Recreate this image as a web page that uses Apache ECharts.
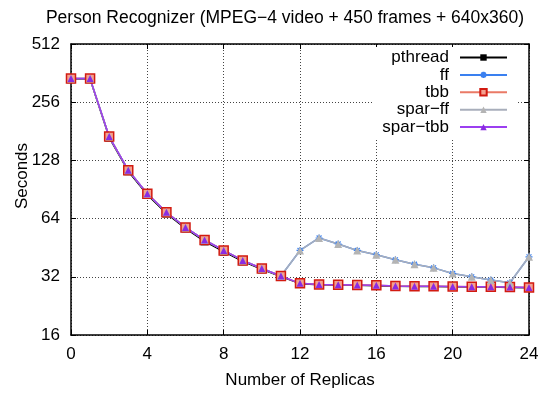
<!DOCTYPE html>
<html>
<head>
<meta charset="utf-8">
<script src="https://cdn.jsdelivr.net/npm/echarts@6/dist/echarts.min.js"></script>
<style>
    html, body { margin: 0; padding: 0; background: #fff; }
    #chart_main { width: 546px; height: 394px; }
</style>
</head>
<body>
<div id="chart_main"></div>
<script>
// 数据
let replicas = [0, 1, 2, 3, 4, 5, 6, 7, 8, 9, 10, 11, 12, 13, 14, 15, 16, 17, 18, 19, 20, 21, 22, 23, 24];
let pthread = [337, 337, 168, 112.5, 85, 68, 57, 48.8, 43.2, 38.5, 35.0, 32.1, 29.5, 29.1, 29.0, 28.9, 28.8, 28.6, 28.5, 28.5, 28.4, 28.3, 28.3, 28.2, 28.1];
let ff = [339, 339, 170, 114, 86, 69, 57.6, 49.6, 43.8, 38.9, 35.3, 32.3, 43.8, 50.8, 47.3, 43.8, 41.6, 39.2, 37.2, 35.6, 33.3, 32.0, 30.8, 29.8, 40.6];
let tbb = [339, 339, 170, 114, 86, 69, 57.6, 49.6, 43.8, 38.9, 35.3, 32.3, 29.6, 29.2, 29.1, 29.0, 28.9, 28.7, 28.6, 28.6, 28.5, 28.4, 28.4, 28.3, 28.2];
let spar_ff = [339, 339, 170, 114, 86, 69, 57.6, 49.6, 43.8, 38.9, 35.3, 32.3, 43.8, 50.8, 47.3, 43.8, 41.6, 39.2, 37.2, 35.6, 33.3, 32.0, 30.8, 29.8, 40.6];
let spar_tbb = [339, 339, 170, 114, 86, 69, 57.6, 49.6, 43.8, 38.9, 35.3, 32.3, 29.6, 29.2, 29.1, 29.0, 28.9, 28.7, 28.6, 28.6, 28.5, 28.4, 28.4, 28.3, 28.2];
let y_ticks = [16, 32, 64, 128, 256, 512];

let FONT = '"Liberation Sans", Arial, sans-serif';
let STAR = 'path://M0 5 L10 5 M5 0 L5 10 M1.5 1.5 L8.5 8.5 M8.5 1.5 L1.5 8.5';

function pairs(arr) {
    return arr.map(function (v, i) {
        return [replicas[i], v];
    });
}

function makeSeries(name, arr, color, symbol, size, itemStyle) {
    return {
        name: name,
        type: 'line',
        data: pairs(arr),
        symbol: symbol,
        symbolSize: size,
        showAllSymbol: true,
        animation: false,
        lineStyle: {color: color, width: 1.5},
        itemStyle: itemStyle
    };
}

let myChart = echarts.init(document.getElementById('chart_main'));

let axisText = {fontFamily: FONT, fontSize: 17, color: '#000'};
let gridLine = {show: true, lineStyle: {color: '#444', type: [1, 2], width: 1}};

let option = {
    backgroundColor: '#fff',
    animation: false,
    title: {
        text: 'Person Recognizer (MPEG\u22124 video + 450 frames + 640x360)',
        left: 280,
        textAlign: 'center',
        top: 4,
        textStyle: {fontFamily: FONT, fontSize: 17.5, fontWeight: 'normal', color: '#000'}
    },
    grid: {left: 71, right: 17, top: 44, bottom: 56},
    legend: {
        orient: 'vertical',
        right: 28,
        top: 47,
        align: 'right',
        itemWidth: 47,
        itemHeight: 8,
        itemGap: 0.4,
        padding: [2, 10, 4, 10],
        backgroundColor: '#fff',
        textStyle: {fontFamily: FONT, fontSize: 17, color: '#000', padding: [0, 6, 0, 0]},
        data: ['pthread', 'ff', 'tbb', 'spar\u2212ff', 'spar\u2212tbb']
    },
    graphic: [{
        type: 'text',
        x: 22,
        y: 176,
        rotation: Math.PI / 2,
        style: {text: 'Seconds', font: '17px ' + FONT, fill: '#000', align: 'center', verticalAlign: 'middle'}
    }],
    xAxis: [{
        type: 'value',
        min: 0,
        max: 24,
        interval: 4,
        name: 'Number of Replicas',
        nameLocation: 'middle',
        nameGap: 37,
        nameTextStyle: axisText,
        axisLine: {show: true, lineStyle: {color: '#000', width: 1.5}},
        axisTick: {show: true, inside: true, length: 5, lineStyle: {color: '#000'}},
        axisLabel: Object.assign({margin: 11}, axisText),
        splitLine: gridLine
    }, {
        type: 'value',
        position: 'top',
        min: 0,
        max: 24,
        interval: 4,
        axisLine: {show: true, onZero: false, lineStyle: {color: '#000', width: 1.5}},
        axisTick: {show: true, inside: true, length: 5, lineStyle: {color: '#000'}},
        axisLabel: {show: false},
        splitLine: {show: false}
    }],
    yAxis: [{
        type: 'log',
        logBase: 2,
        min: y_ticks[0],
        max: y_ticks[y_ticks.length - 1],
        splitNumber: 5,
        axisLine: {show: true, lineStyle: {color: '#000', width: 1.5}},
        axisTick: {show: true, inside: true, length: 5, lineStyle: {color: '#000'}},
        axisLabel: Object.assign({margin: 11}, axisText),
        splitLine: gridLine
    }, {
        type: 'log',
        logBase: 2,
        position: 'right',
        min: y_ticks[0],
        max: y_ticks[y_ticks.length - 1],
        splitNumber: 5,
        axisLine: {show: true, onZero: false, lineStyle: {color: '#000', width: 1.5}},
        axisTick: {show: true, inside: true, length: 5, lineStyle: {color: '#000'}},
        axisLabel: {show: false},
        splitLine: {show: false}
    }],
    series: [
        makeSeries('pthread', pthread, '#000000', 'rect', 8, {color: '#000000'}),
        makeSeries('ff', ff, '#3a80f0', STAR, 7, {color: '#3a80f0', borderColor: '#3a80f0', borderWidth: 1.2}),
        makeSeries('tbb', tbb, '#ea7a66', 'rect', 9, {color: '#f3a08f', borderColor: '#d21a10', borderWidth: 1.5}),
        makeSeries('spar\u2212ff', spar_ff, '#a8aebb', 'triangle', 8, {color: '#b4b4b4'}),
        makeSeries('spar\u2212tbb', spar_tbb, '#9b3ff0', 'triangle', 7, {color: '#8a2be2'})
    ]
};

myChart.setOption(option);
</script>
</body>
</html>
